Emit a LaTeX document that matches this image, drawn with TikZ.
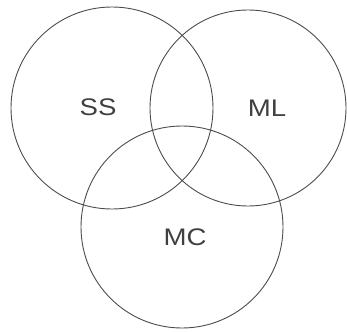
\documentclass[tikz,border=0pt]{standalone}
\usepackage{fontspec}
\setmainfont{Liberation Sans}
\begin{document}
\begin{tikzpicture}[x=1pt,y=-1pt,
  ring/.style={draw=black!70, line width=0.9pt},
  lbl/.style={font=\fontsize{24}{24}\selectfont, text=black!75, xscale=1.15, inner sep=0pt}]
\useasboundingbox (0,0) rectangle (347,331);
\draw[ring] (112,108) circle[radius=101];
\draw[ring] (248,108) circle[radius=98];
\draw[ring] (182,227) circle[radius=101];
\node[lbl] (ss) at (98,107) {SS};
\node[lbl] (ml) at (267,108) {ML};
\node[lbl] (mc) at (185,237) {MC};
\end{tikzpicture}
\end{document}
